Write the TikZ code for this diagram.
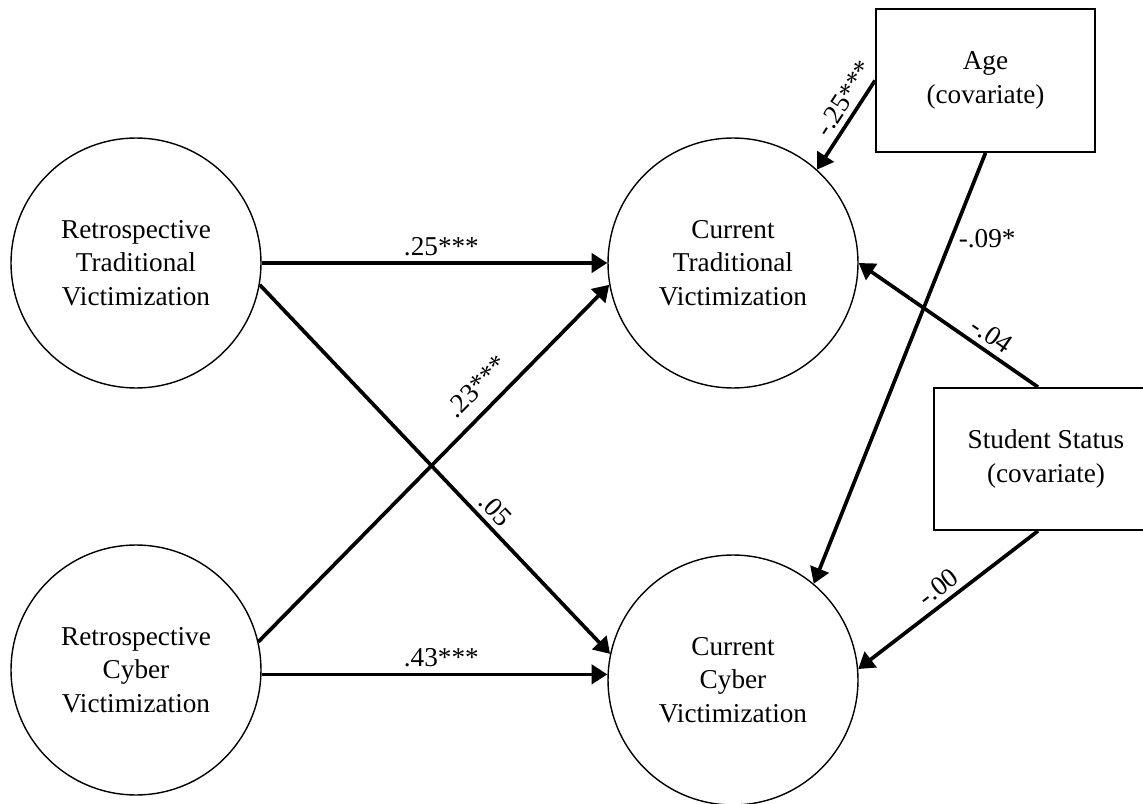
\documentclass[tikz,border=0pt]{standalone}
\usepackage{fontspec}
\setmainfont{Liberation Serif}
\usetikzlibrary{arrows.meta,calc}
\begin{document}
\begin{tikzpicture}[x=0.02cm,y=-0.02cm,
  font=\fontsize{15.5}{19}\selectfont,
  latent/.style={circle,draw,line width=0.8pt,minimum size=5cm,inner sep=0pt,align=center,fill=white},
  covbox/.style={rectangle,draw,line width=1.1pt,align=center,fill=white},
  path/.style={line width=2.1pt,-{Triangle[length=9pt,width=11pt]}},
  lbl/.style={inner sep=3pt}
]
\useasboundingbox (0,0) rectangle (1143,804);
\node[latent] (rt) at (136,263) {Retrospective\\Traditional\\Victimization};
\node[latent] (rc) at (136,670) {Retrospective\\Cyber\\Victimization};
\node[latent] (ct) at (733,263) {Current\\Traditional\\Victimization};
\node[latent] (cc) at (733,680) {Current\\Cyber\\Victimization};
\node[covbox,minimum width=4.38cm,minimum height=2.86cm] (age) at (985.5,80.5) {Age\\(covariate)};
\node[covbox,minimum width=4.48cm,minimum height=2.84cm] (ss) at (1046,459) {Student Status\\(covariate)};

\draw[path] (rt.east) -- (ct.west) node[lbl,pos=0.52,above] {.25***};
\draw[path] (rc.-2) -- (rc.-2 -| cc.west) node[lbl,pos=0.52,above] {.43***};
\draw[path] (rt.-10) -- (cc.168) node[lbl,pos=0.64,above,sloped] {.05};
\draw[path] (rc.13) -- (ct.-170) node[lbl,pos=0.67,above=4pt,sloped] {.23***};
\draw[path] (age.west) -- (ct.48) node[lbl,pos=0.3,above,sloped] {-.25***};
\draw[path] (age.south) -- (cc.50) node[pos=0.2,right] {-.09*};
\draw[path] ($(ss.north)+(-8,0)$) -- (ct.east) node[lbl,pos=0.31,above,sloped] {-.04};
\draw[path] ($(ss.south)+(-8,0)$) -- (cc.5) node[lbl,pos=0.5,above,sloped] {-.00};
\end{tikzpicture}
\end{document}
